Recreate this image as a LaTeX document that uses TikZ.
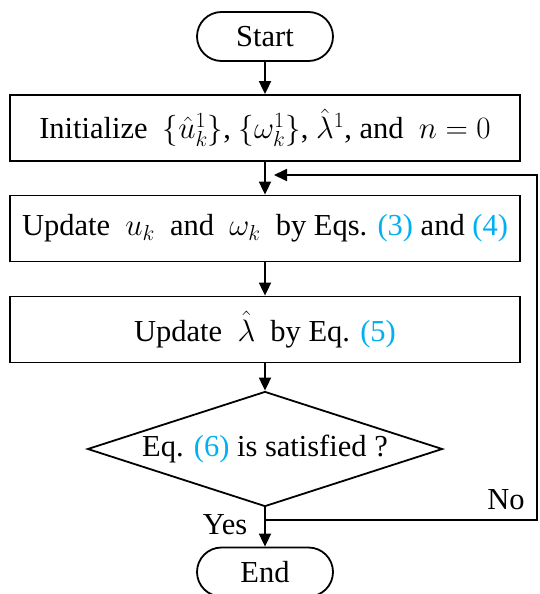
\documentclass[tikz,border=0pt]{standalone}
\usepackage{fix-cm}
\usepackage{fontspec}
\setmainfont{Liberation Serif}
\usetikzlibrary{arrows.meta,shapes.geometric,shapes.misc}
\definecolor{eqblue}{RGB}{0,176,240}
\newcommand{\eqref}[1]{\textcolor{eqblue}{(#1)}}
% math set a little larger so it matches the serif text
\newcommand{\mm}[1]{{\fontsize{31}{34}\selectfont$#1$}}
\begin{document}
\begin{tikzpicture}[x=1pt,y=-1pt,
  every node/.style={font=\fontsize{30.5}{34}\selectfont, inner sep=0pt},
  terminal/.style={draw, line width=1.8pt, rounded rectangle, minimum width=136pt, minimum height=49pt},
  procbox/.style={draw, line width=1.8pt, rectangle, minimum width=510pt, minimum height=66pt},
  decision/.style={draw, line width=1.8pt, diamond, aspect=3.1, minimum width=355pt, minimum height=115pt},
  flow/.style={line width=1.8pt, -{Triangle[length=13pt,width=12pt]}},
  plainline/.style={line width=1.8pt}]
\useasboundingbox (0,0) rectangle (539,594);
\node[terminal] (start) at (265,36.5) {Start};
\node[procbox] (init) at (265,128) {Initialize\ \ \mm{\{\hat{u}_k^1\}},\ \mm{\{\omega_k^1\}},\ \mm{\hat{\lambda}^1}, and\ \ \mm{n=0}};
\node[procbox] (upd) at (265,228.5) {Update\ \ \mm{u_k}\ \ and\ \ \mm{\omega_k}\ \ by Eqs. \eqref{3} and \eqref{4}};
\node[procbox] (lam) at (265,329.5) {Update\ \ \mm{\hat{\lambda}}\ \ by Eq. \eqref{5}};
\node[decision] (dec) at (265,449) {Eq. \eqref{6} is satisfied ?};
\node[terminal] (stop) at (265,572) {End};
\coordinate (split) at (265,520);
\coordinate (corner1) at (537,520);
\coordinate (corner2) at (537,175);
\coordinate (loopend) at (274,175);
\draw[flow] (start) -- (init);
\draw[flow] (init) -- (upd);
\draw[flow] (upd) -- (lam);
\draw[flow] (lam) -- (dec);
\draw[flow] (dec) -- (stop);
\draw[plainline, -{Triangle[length=13pt,width=12pt]}] (split) -- (corner1) -- (corner2) -- (loopend);
\node at (225,525) {Yes};
\node at (506,500) {No};
\end{tikzpicture}
\end{document}
